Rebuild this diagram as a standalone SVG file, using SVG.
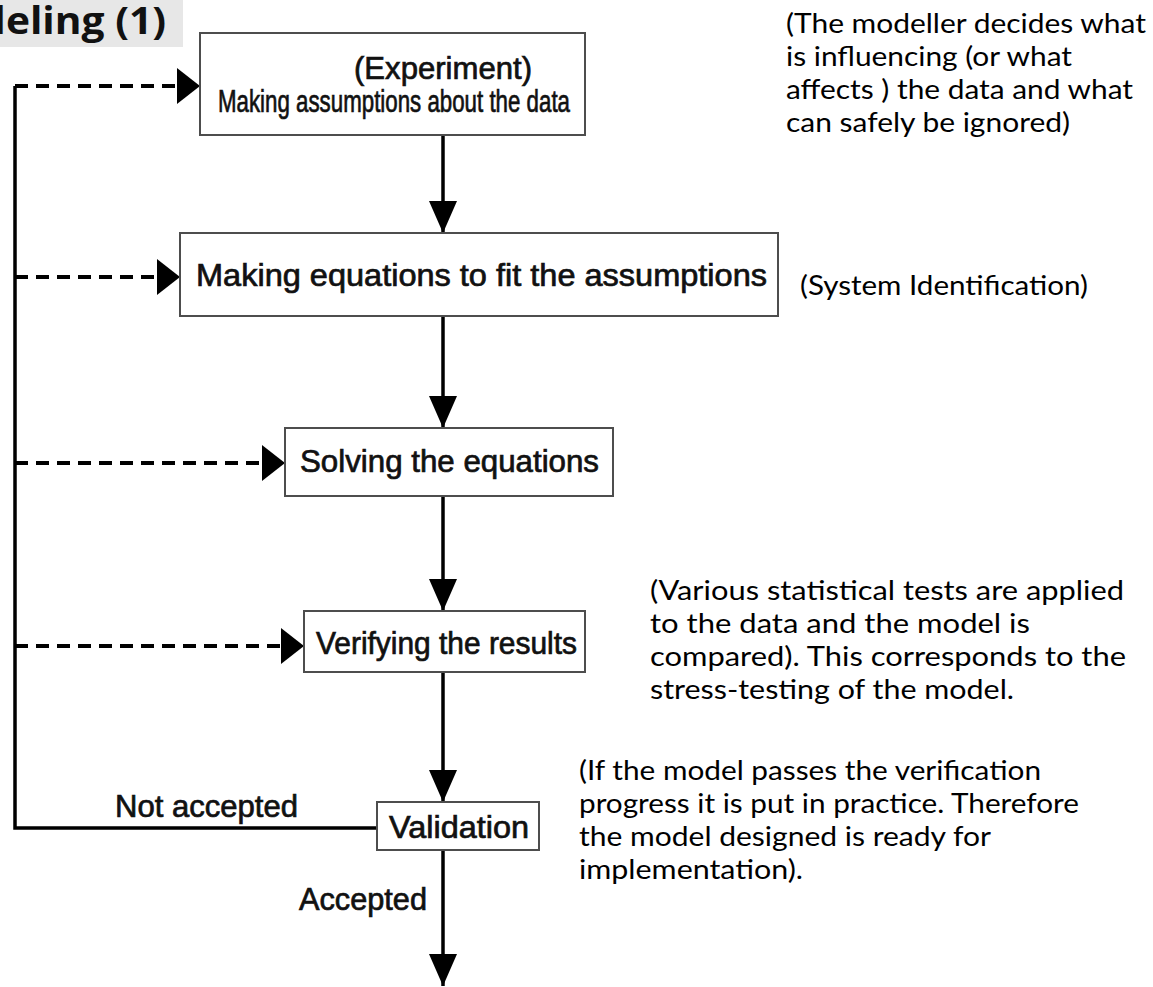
<svg xmlns="http://www.w3.org/2000/svg" width="1153" height="987" viewBox="0 0 1153 987">
  <style>
    .box { fill: #ffffff; stroke: #4d4d4d; stroke-width: 2; }
    .lbl { font-family: "Liberation Sans", Arial, sans-serif; font-size: 31px; fill: #111111; stroke: #111111; stroke-width: 0.7; }
    .note { font-family: Lato, "Open Sans", sans-serif; font-size: 27px; fill: #000000; }
    .title { font-family: "Open Sans", "Noto Sans", sans-serif; font-size: 38px; font-weight: bold; fill: #111111; }
    .solid { fill: none; stroke: #000000; stroke-width: 3.5; }
    .dash { fill: none; stroke: #000000; stroke-width: 4; stroke-dasharray: 13 8; }
  </style>
  <defs>
    <marker id="headH" markerUnits="userSpaceOnUse" viewBox="0 0 23 36" markerWidth="23" markerHeight="36" refX="23" refY="18" orient="auto">
      <path d="M0,0 L23,18 L0,36 Z" fill="#000000"/>
    </marker>
    <marker id="headV" markerUnits="userSpaceOnUse" viewBox="0 0 32 28" markerWidth="32" markerHeight="28" refX="32" refY="14" orient="auto">
      <path d="M0,0 L32,14 L0,28 Z" fill="#000000"/>
    </marker>
  </defs>

  <rect width="1153" height="987" fill="#ffffff"/>

  <!-- heading tab, cut at the left edge -->
  <g id="heading">
    <rect x="0" y="0" width="183" height="47" fill="#e7e7e7"/>
    <text class="title" x="166" y="34" text-anchor="end" transform="translate(166,0) scale(1.072,1) translate(-166,0)">deling (1)</text>
  </g>

  <!-- connectors -->
  <g id="connectors">
    <!-- feedback rail -->
    <path class="solid" d="M377,828 H15 V86"/>
    <!-- dashed re-entry arrows -->
    <path class="dash" d="M15,86 H200" marker-end="url(#headH)"/>
    <path class="dash" d="M15,277 H180" marker-end="url(#headH)"/>
    <path class="dash" d="M15,463 H285" marker-end="url(#headH)"/>
    <path class="dash" d="M15,646 H304" marker-end="url(#headH)"/>
    <!-- main flow -->
    <path class="solid" d="M443,135 V233" marker-end="url(#headV)"/>
    <path class="solid" d="M443,316 V428" marker-end="url(#headV)"/>
    <path class="solid" d="M443,496 V611" marker-end="url(#headV)"/>
    <path class="solid" d="M443,672 V802" marker-end="url(#headV)"/>
    <path class="solid" d="M443,850 V986" marker-end="url(#headV)"/>
    <text class="lbl" x="115" y="817" textLength="183" lengthAdjust="spacingAndGlyphs">Not accepted</text>
    <text class="lbl" x="299" y="910" textLength="128" lengthAdjust="spacingAndGlyphs">Accepted</text>
  </g>

  <g id="experiment">
    <rect class="box" x="200" y="33" width="385" height="102"/>
    <text class="lbl" x="354" y="79" textLength="178" lengthAdjust="spacingAndGlyphs">(Experiment)</text>
    <text class="lbl" x="218" y="112" textLength="352" lengthAdjust="spacingAndGlyphs">Making assumptions about the data</text>
  </g>

  <g id="equations">
    <rect class="box" x="180" y="233" width="598" height="83"/>
    <text class="lbl" x="196" y="286" textLength="571" lengthAdjust="spacingAndGlyphs">Making equations to fit the assumptions</text>
  </g>

  <g id="solving">
    <rect class="box" x="285" y="428" width="328" height="68"/>
    <text class="lbl" x="300" y="472" textLength="299" lengthAdjust="spacingAndGlyphs">Solving the equations</text>
  </g>

  <g id="verifying">
    <rect class="box" x="304" y="611" width="281" height="61"/>
    <text class="lbl" x="316" y="654" textLength="261" lengthAdjust="spacingAndGlyphs">Verifying the results</text>
  </g>

  <g id="validation">
    <rect class="box" x="377" y="802" width="162" height="48"/>
    <text class="lbl" x="389" y="838" textLength="140" lengthAdjust="spacingAndGlyphs">Validation</text>
  </g>

  <!-- explanatory notes -->
  <g id="note-experiment">
    <text class="note" x="786" y="33" textLength="360" lengthAdjust="spacingAndGlyphs">(The modeller decides what</text>
    <text class="note" x="786" y="66" textLength="286" lengthAdjust="spacingAndGlyphs">is influencing (or what</text>
    <text class="note" x="786" y="99" textLength="347" lengthAdjust="spacingAndGlyphs">affects ) the data and what</text>
    <text class="note" x="786" y="132" textLength="284" lengthAdjust="spacingAndGlyphs">can safely be ignored)</text>
  </g>
  <g id="note-identification">
    <text class="note" x="800" y="295" textLength="288" lengthAdjust="spacingAndGlyphs">(System Identification)</text>
  </g>
  <g id="note-verifying">
    <text class="note" x="650" y="600" textLength="474" lengthAdjust="spacingAndGlyphs">(Various statistical tests are applied</text>
    <text class="note" x="650" y="633" textLength="380" lengthAdjust="spacingAndGlyphs">to the data and the model is</text>
    <text class="note" x="650" y="666" textLength="476" lengthAdjust="spacingAndGlyphs">compared). This corresponds to the</text>
    <text class="note" x="650" y="699" textLength="364" lengthAdjust="spacingAndGlyphs">stress-testing of the model.</text>
  </g>
  <g id="note-validation">
    <text class="note" x="579" y="780" textLength="462" lengthAdjust="spacingAndGlyphs">(If the model passes the verification</text>
    <text class="note" x="579" y="813" textLength="500" lengthAdjust="spacingAndGlyphs">progress it is put in practice. Therefore</text>
    <text class="note" x="579" y="846" textLength="412" lengthAdjust="spacingAndGlyphs">the model designed is ready for</text>
    <text class="note" x="579" y="879" textLength="224" lengthAdjust="spacingAndGlyphs">implementation).</text>
  </g>
</svg>
